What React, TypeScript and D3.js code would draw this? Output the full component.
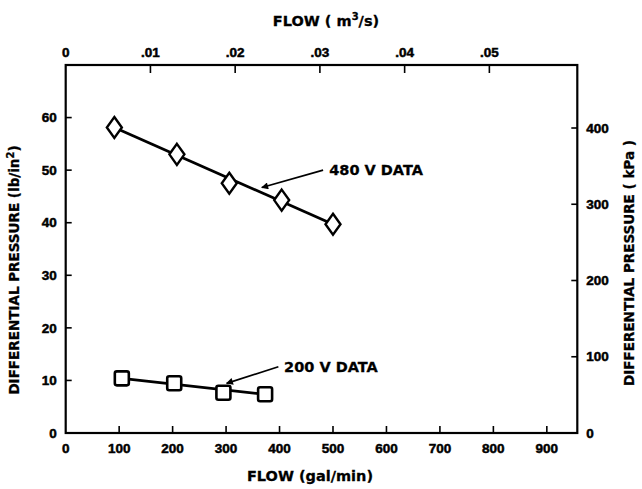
import React from 'react';
import * as d3 from 'd3';

// ---- data ----
const flowTicks = [0, 100, 200, 300, 400, 500, 600, 700, 800, 900];
const psiTicks = [0, 10, 20, 30, 40, 50, 60];
const kpaTicks = [0, 100, 200, 300, 400];
const m3sTicks = [0, 0.01, 0.02, 0.03, 0.04, 0.05];
const m3sLabels = ['0', '.01', '.02', '.03', '.04', '.05'];

const flow480 = [91, 208, 306, 404, 500];
const psi480 = [58.1, 53.0, 47.5, 44.3, 39.7];
const flow200 = [105, 203, 295, 373];
const psi200 = [10.4, 9.45, 7.66, 7.36];

const GPM_PER_M3S = 15850.3;
const KPA_PER_PSI = 6.89476;
const FLOW_MAX = 957;
const PSI_MAX = 70;

const W = 642;
const H = 489;
const L = 65.7, R = 577.3, T = 65, B = 433;

const tickFont = '"Liberation Sans", Arial, sans-serif';
const titleFont = '"DejaVu Sans", sans-serif';

export default function App() {
  const x = d3.scaleLinear().domain([0, FLOW_MAX]).range([L, R]);
  const y = d3.scaleLinear().domain([0, PSI_MAX]).range([B, T]);
  const xTop = d3.scaleLinear().domain([0, FLOW_MAX / GPM_PER_M3S]).range([L, R]);
  const yR = d3.scaleLinear().domain([0, PSI_MAX * KPA_PER_PSI]).range([B, T]);

  const p480 = flow480.map((f, i) => [x(f), y(psi480[i])] as [number, number]);
  const p200 = flow200.map((f, i) => [x(f), y(psi200[i])] as [number, number]);
  const line = d3.line();
  const fit480 = line([p480[0], p480[p480.length - 1]]) || '';
  const fit200 = line([p200[0], p200[p200.length - 1]]) || '';

  const diamond = (cx: number, cy: number) =>
    `M${cx},${cy - 10.5}L${cx + 7.5},${cy}L${cx},${cy + 10.5}L${cx - 7.5},${cy}Z`;

  const tickText = { fontFamily: tickFont, fontWeight: 'bold' as const, fontSize: 13.5, stroke: '#000', strokeWidth: 0.5 };
  const titleText = { fontFamily: titleFont, fontWeight: 'bold' as const, stroke: '#000', strokeWidth: 0.3 };

  return (
    <svg width={W} height={H} style={{ position: 'absolute', left: 0, top: 0, background: '#fff' }}>
      <defs>
        <marker id="ah" viewBox="0 0 10 10" refX="9" refY="5" markerWidth="11" markerHeight="7" markerUnits="userSpaceOnUse" orient="auto">
          <path d="M0,0L10,5L0,10Z" fill="#000" />
        </marker>
      </defs>
      {/* frame */}
      <rect x={L} y={T} width={R - L} height={B - T} fill="none" stroke="#000" strokeWidth={2.2} />

      {/* bottom axis */}
      {flowTicks.map((t) => (
        <g key={'bx' + t}>
          {t > 0 && <line x1={x(t)} x2={x(t)} y1={B} y2={B - 7} stroke="#000" strokeWidth={1.6} />}
          <text x={x(t)} y={B + 20} textAnchor="middle" {...tickText}>{t}</text>
        </g>
      ))}
      {/* top axis */}
      {m3sTicks.map((t, i) => (
        <g key={'tx' + t}>
          {t > 0 && <line x1={xTop(t)} x2={xTop(t)} y1={T} y2={T + 8} stroke="#000" strokeWidth={1.6} />}
          <text x={xTop(t)} y={T - 8} textAnchor="middle" {...tickText}>{m3sLabels[i]}</text>
        </g>
      ))}
      {/* left axis */}
      {psiTicks.map((t) => (
        <g key={'ly' + t}>
          {t > 0 && <line x1={L} x2={L + 6} y1={y(t)} y2={y(t)} stroke="#000" strokeWidth={1.6} />}
          <text x={L - 9} y={y(t)} dy="0.35em" textAnchor="end" {...tickText}>{t}</text>
        </g>
      ))}
      {/* right axis */}
      {kpaTicks.map((t) => (
        <g key={'ry' + t}>
          {t > 0 && <line x1={R} x2={R - 6} y1={yR(t)} y2={yR(t)} stroke="#000" strokeWidth={1.6} />}
          <text x={R + 9} y={yR(t)} dy="0.35em" textAnchor="start" {...tickText}>{t}</text>
        </g>
      ))}

      {/* titles */}
      <text x={326} y={26} textAnchor="middle" fontSize={14.5} {...titleText}>
        FLOW ( m<tspan dy="-6" fontSize={10}>3</tspan><tspan dy="6">/s)</tspan>
      </text>
      <text x={310} y={481} textAnchor="middle" fontSize={14.5} {...titleText}>FLOW (gal/min)</text>
      <text transform={`translate(19,270) rotate(-90)`} textAnchor="middle" fontSize={13.5} {...titleText}>
        DIFFERENTIAL PRESSURE (lb/in<tspan dy="-5" fontSize={10}>2</tspan><tspan dy="5">)</tspan>
      </text>
      <text transform={`translate(634,263) rotate(-90)`} textAnchor="middle" fontSize={13.5} {...titleText}>
        DIFFERENTIAL PRESSURE ( kPa )
      </text>

      {/* data lines */}
      <path d={fit480} fill="none" stroke="#000" strokeWidth={2.8} />
      <path d={fit200} fill="none" stroke="#000" strokeWidth={2.8} />
      {p480.map(([cx, cy], i) => (
        <path key={'d' + i} d={diamond(cx, cy)} fill="#fff" stroke="#000" strokeWidth={2.4} />
      ))}
      {p200.map(([cx, cy], i) => (
        <rect key={'s' + i} x={cx - 7} y={cy - 7} width={14} height={14} rx={2} fill="#fff" stroke="#000" strokeWidth={2.6} />
      ))}

      {/* annotations */}
      <line x1={x(481.5)} y1={y(50)} x2={x(366.8)} y2={y(46.7)} stroke="#000" strokeWidth={1.7} markerEnd="url(#ah)" />
      <text x={x(493)} y={y(50)} dy="0.35em" fontSize={14.5} {...titleText}>480 V DATA</text>
      <line x1={x(397.8)} y1={y(12.6)} x2={x(301)} y2={y(9.45)} stroke="#000" strokeWidth={1.7} markerEnd="url(#ah)" />
      <text x={x(408.5)} y={y(12.6)} dy="0.35em" fontSize={14.5} {...titleText}>200 V DATA</text>
    </svg>
  );
}
